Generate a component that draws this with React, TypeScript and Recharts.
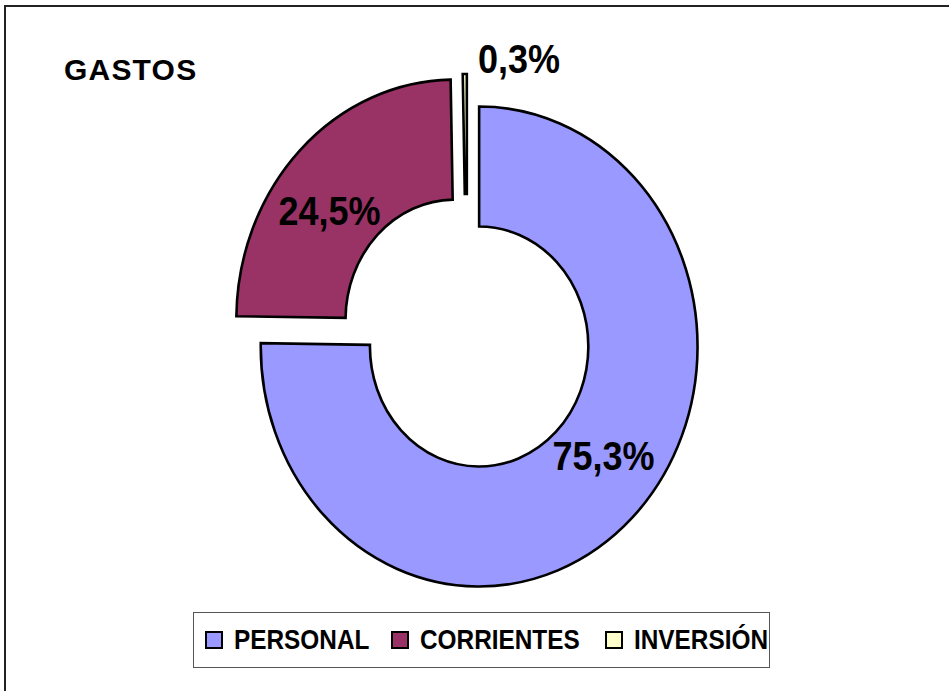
import { PieChart, Pie, Cell, Legend } from 'recharts';

const CATEGORIES = ['PERSONAL', 'CORRIENTES', 'INVERSIÓN'];
const VALUES = [75.3, 24.5, 0.3];
const COLORS = ['#9999FF', '#993366', '#FFFFCC'];

const data = CATEGORIES.map((name, i) => ({ name, value: VALUES[i] }));

// the original picture is squeezed horizontally, and every slice is pulled out a bit
const X_SCALE = 0.91;
const EXPLODE = 19;
const RAD = Math.PI / 180;
const FONT = '"Liberation Sans", Arial, sans-serif';
const LEGEND_TEXT_W = [136, 164, 146];

const fmt = (v: number) => v.toFixed(1).replace('.', ',') + '%';

const EllipseSector = (props: any) => {
  const { cx, cy, innerRadius, outerRadius, startAngle, endAngle, fill } = props;
  const mid = (startAngle + endAngle) / 2;
  const ox = cx + EXPLODE * X_SCALE * Math.cos(mid * RAD);
  const oy = cy - EXPLODE * Math.sin(mid * RAD);
  const pt = (r: number, a: number) => `${ox + r * X_SCALE * Math.cos(a * RAD)},${oy - r * Math.sin(a * RAD)}`;
  const delta = endAngle - startAngle;
  const large = Math.abs(delta) > 180 ? 1 : 0;
  const sweep = delta < 0 ? 1 : 0;
  const d = [
    `M${pt(outerRadius, startAngle)}`,
    `A${outerRadius * X_SCALE},${outerRadius} 0 ${large} ${sweep} ${pt(outerRadius, endAngle)}`,
    `L${pt(innerRadius, endAngle)}`,
    `A${innerRadius * X_SCALE},${innerRadius} 0 ${large} ${1 - sweep} ${pt(innerRadius, startAngle)}`,
    'Z',
  ].join(' ');
  return <path d={d} fill={fill} stroke="#000" strokeWidth={2.6} strokeLinejoin="miter" />;
};

const renderLabel = (props: any) => {
  const { cx, cy, midAngle, outerRadius, percent, index } = props;
  const text = fmt(VALUES[index]);
  let x: number;
  let y: number;
  let anchor: 'start' | 'middle' = 'middle';
  if (percent < 0.01) {
    x = cx + 11;
    y = cy - (outerRadius + EXPLODE + 15);
    anchor = 'start';
  } else {
    const a = (midAngle + 6) * RAD;
    const r = 194;
    x = cx + r * X_SCALE * Math.cos(a);
    y = cy - r * Math.sin(a);
  }
  return (
    <text transform={`translate(${x},${y}) scale(0.9,1)`} x={0} y={0} textAnchor={anchor} dominantBaseline="central"
      fontFamily={FONT} fontWeight="bold" fontSize={40} fill="#000">
      {text}
    </text>
  );
};

const renderLegend = () => (
  <div style={{
    display: 'flex', alignItems: 'center', border: '1px solid #555', width: 577, height: 56,
    boxSizing: 'border-box', paddingLeft: 11, fontFamily: FONT, fontWeight: 'bold', fontSize: 28,
    color: '#000', background: '#fff',
  }}>
    {CATEGORIES.map((name, i) => (
      <div key={name} style={{ display: 'flex', alignItems: 'center', marginRight: i < 2 ? 21 : 0 }}>
        <span style={{
          display: 'inline-block', width: 18, height: 18, boxSizing: 'border-box', background: COLORS[i],
          border: '2px solid #000', marginRight: 11,
        }} />
        <span style={{ display: 'inline-block', width: LEGEND_TEXT_W[i], whiteSpace: 'nowrap', lineHeight: '30px' }}>
          <span style={{ display: 'inline-block', transform: 'scaleX(0.87)', transformOrigin: 'left center' }}>{name}</span>
        </span>
      </div>
    ))}
  </div>
);

export default function App() {
  return (
    <div style={{ position: 'absolute', left: 0, top: 0, width: 949, height: 691, overflow: 'hidden', background: '#fff' }}>
      <div style={{ position: 'absolute', left: 4, top: 5, width: 1000, height: 1000, border: '2px solid #222' }} />
      <div style={{
        position: 'absolute', left: 64, top: 53, fontFamily: FONT, fontWeight: 'bold', fontSize: 30,
        letterSpacing: 1.2, color: '#000',
      }}>
        GASTOS
      </div>
      <PieChart width={949} height={691} margin={{ top: 0, right: 0, bottom: 0, left: 0 }}>
        <Pie
          data={data}
          dataKey="value"
          nameKey="name"
          cx={467}
          cy={333}
          innerRadius={120}
          outerRadius={240}
          startAngle={90}
          endAngle={-270}
          shape={EllipseSector}
          activeShape={EllipseSector}
          inactiveShape={EllipseSector}
          label={renderLabel}
          labelLine={false}
          isAnimationActive={false}
        >
          {data.map((_, i) => (
            <Cell key={`cell-${i}`} fill={COLORS[i]} />
          ))}
        </Pie>
        <Legend content={renderLegend} wrapperStyle={{ left: 193, top: 612, width: 577, bottom: 'auto' }} />
      </PieChart>
    </div>
  );
}
